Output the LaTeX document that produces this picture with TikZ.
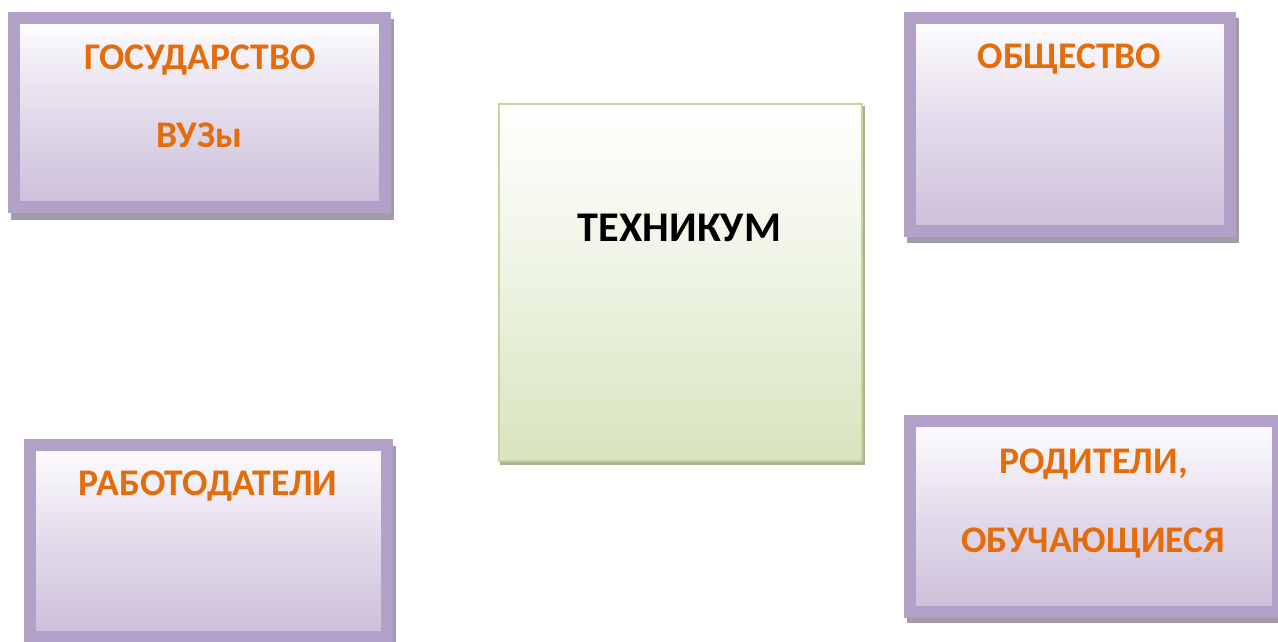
\documentclass[tikz,border=0pt]{standalone}
\usepackage{fontspec}
\setmainfont{Carlito}
\definecolor{lavborder}{HTML}{B1A0C7}
\definecolor{lavtop}{HTML}{FEFDFF}
\definecolor{lavbot}{HTML}{CCBFDA}
\definecolor{shadowc}{HTML}{A29BAA}
\definecolor{greenborder}{HTML}{C3D69B}
\definecolor{greenbot}{HTML}{D7E4BD}
\definecolor{greenshadow}{HTML}{A9B394}
\definecolor{txtorange}{HTML}{E46C0A}
\begin{document}
\begin{tikzpicture}[x=1pt,y=-1pt,
  purplebox/.style={draw=lavborder,line width=12pt,top color=lavtop,bottom color=lavbot,
    middle color=lavtop!45!lavbot,rectangle,inner sep=0pt,outer sep=0pt},
  centerbox/.style={draw=greenborder,line width=2pt,top color=white,bottom color=greenbot,
    middle color=white!55!greenbot,rectangle,inner sep=0pt,outer sep=0pt},
  orangetxt/.style={font=\bfseries\fontsize{37.6}{42}\selectfont,text=txtorange,anchor=base,inner sep=0pt},
  blacktxt/.style={font=\bfseries\fontsize{42.3}{47}\selectfont,text=black,anchor=base,inner sep=0pt}]
\clip (0,0) rectangle (1278,642);
\fill[white] (0,0) rectangle (1278,642);
% shadows
\fill[shadowc] (11,19) rectangle (394,220);
\fill[shadowc] (907,18) rectangle (1239,243);
\fill[shadowc] (26,446) rectangle (396,650);
\fill[shadowc] (907,421) rectangle (1290,623);
\fill[greenshadow] (500,106) rectangle (865,465);
% boxes
\node[purplebox,minimum width=371pt,minimum height=189pt] (gos) at (199.5,112.5) {};
\node[purplebox,minimum width=320pt,minimum height=213pt] (obsh) at (1070,124.5) {};
\node[purplebox,minimum width=357.5pt,minimum height=192pt] (rab) at (208.25,541) {};
\node[purplebox,minimum width=368pt,minimum height=191pt] (rod) at (1094,516.5) {};
\node[centerbox,minimum width=363pt,minimum height=357pt] (tech) at (680.5,282.5) {};
% texts
\node[orangetxt] (t1) at (200,70) {ГОСУДАРСТВО};
\node[orangetxt] (t2) at (199,147) {ВУЗы};
\node[orangetxt] (t3) at (1069.5,69) {ОБЩЕСТВО};
\node[blacktxt] (t4) at (679.5,241) {ТЕХНИКУМ};
\node[orangetxt] (t5) at (208,495) {РАБОТОДАТЕЛИ};
\node[orangetxt] (t6) at (1093.5,473) {РОДИТЕЛИ,};
\node[orangetxt] (t7) at (1093,552) {ОБУЧАЮЩИЕСЯ};
\end{tikzpicture}
\end{document}
